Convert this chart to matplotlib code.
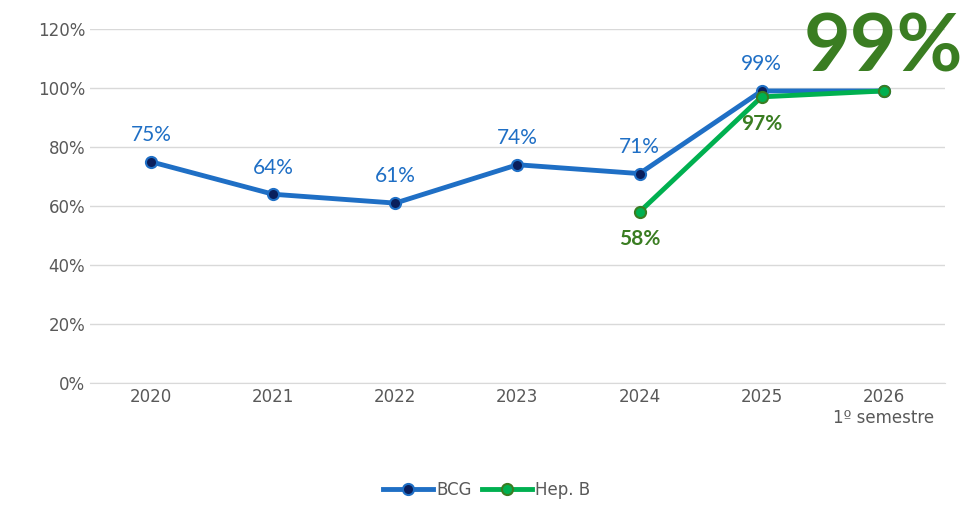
import matplotlib
matplotlib.use("Agg")
import matplotlib.pyplot as plt

years = ["2020", "2021", "2022", "2023", "2024", "2025", "2026\n1º semestre"]
bcg = [75, 64, 61, 74, 71, 99, 99]
hepb = [None, None, None, None, 58, 97, 99]

BLUE = "#1F6FC5"
NAVY = "#0A1F5C"
GREEN = "#00B050"
DKGREEN = "#3A7D22"
GRID = "#D9D9D9"
TICK = "#595959"

fig = plt.figure(figsize=(9.73, 5.27), dpi=100)
ax = fig.add_axes([0.0925, 0.273, 0.8785, 0.672])
x = list(range(len(years)))

ax.plot(x, bcg, color=BLUE, lw=3.5, marker="o", ms=8, mfc=NAVY, mec=BLUE, mew=1.5,
        label="BCG", zorder=3)
hx = [i for i, v in zip(x, hepb) if v is not None]
hv = [v for v in hepb if v is not None]
ax.plot(hx, hv, color=GREEN, lw=3.5, marker="o", ms=8, mfc=GREEN, mec=DKGREEN, mew=1.5,
        label="Hep. B", zorder=4)

for i, v in enumerate(bcg[:6]):
    ax.annotate(f"{v}%", (i, v), xytext=(0, 12), textcoords="offset points",
                ha="center", va="bottom", color=BLUE, fontsize=15, family="Lato")
for i, v in zip(hx[:2], hv[:2]):
    ax.annotate(f"{v}%", (i, v), xytext=(0, -12), textcoords="offset points",
                ha="center", va="top", color=DKGREEN, fontsize=15, family="Lato",
                fontweight="bold")
ax.annotate(f"{bcg[6]}%", (6, 99), xytext=(0, 4), textcoords="offset points",
            ha="center", va="bottom", color=DKGREEN, fontsize=58, family="Lato",
            fontweight="bold", annotation_clip=False)

ax.set_xlim(-0.5, 6.5)
ax.set_ylim(0, 120)
ax.set_yticks(range(0, 121, 20))
ax.set_yticklabels([f"{t}%" for t in range(0, 121, 20)])
ax.set_xticks(x)
ax.set_xticklabels(years)
ax.tick_params(colors=TICK, labelsize=12, length=0)
ax.grid(axis="y", color=GRID, lw=1)
ax.set_axisbelow(True)
for s in ["top", "right", "left"]:
    ax.spines[s].set_visible(False)
ax.spines["bottom"].set_color(GRID)

fig.legend(loc="center", bbox_to_anchor=(0.5, 0.07), ncol=2, frameon=False,
           fontsize=12, labelcolor=TICK, handlelength=3, columnspacing=0.6,
           handletextpad=0.2)
fig.savefig("out.png", dpi=100, facecolor="white")
